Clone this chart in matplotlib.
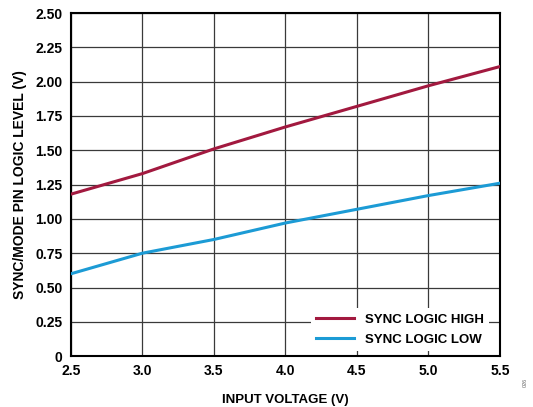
import matplotlib
matplotlib.use("Agg")
import matplotlib.pyplot as plt

plt.rcParams["font.family"] = ["Liberation Sans", "DejaVu Sans"]
plt.rcParams["font.weight"] = "bold"

# 输入电压与 SYNC/MODE 引脚逻辑阈值
vin = [2.5, 3.0, 3.5, 4.0, 4.5, 5.0, 5.5]
sync_high = [1.18, 1.33, 1.51, 1.67, 1.82, 1.97, 2.11]
sync_low = [0.60, 0.75, 0.85, 0.97, 1.07, 1.17, 1.26]

x_ticks = [2.5, 3.0, 3.5, 4.0, 4.5, 5.0, 5.5]
y_ticks = [0, 0.25, 0.50, 0.75, 1.00, 1.25, 1.50, 1.75, 2.00, 2.25, 2.50]
y_labels = ["0", "0.25", "0.50", "0.75", "1.00", "1.25", "1.50", "1.75", "2.00", "2.25", "2.50"]

fig = plt.figure(figsize=(5.33, 4.07), dpi=100)
ax = fig.add_axes([0.133, 0.125, 0.805, 0.843])

ax.plot(vin, sync_high, color="#A2193F", linewidth=2.2, label="SYNC LOGIC HIGH", zorder=3)
ax.plot(vin, sync_low, color="#1C9BD5", linewidth=2.2, label="SYNC LOGIC LOW", zorder=3)

ax.set_xlim(2.5, 5.5)
ax.set_ylim(0, 2.5)
ax.set_xticks(x_ticks)
ax.set_xticklabels([f"{v:.1f}" for v in x_ticks], fontweight="bold")
ax.set_yticks(y_ticks)
ax.set_yticklabels(y_labels, fontweight="bold")
ax.tick_params(length=0, labelsize=10, pad=6)
ax.grid(True, color="#3a3a3a", linewidth=0.9)
for s in ax.spines.values():
    s.set_linewidth(1.5)
    s.set_color("black")

ax.set_xlabel("INPUT VOLTAGE (V)", fontsize=9.5, fontweight="bold", labelpad=11)
ax.set_ylabel("SYNC/MODE PIN LOGIC LEVEL (V)", fontsize=10, fontweight="bold", labelpad=6)

leg = ax.legend(loc="lower right", bbox_to_anchor=(0.99, -0.005),
                prop={"size": 9.5, "weight": "bold"},
                frameon=True, fancybox=False, framealpha=1, edgecolor="white",
                handlelength=2.9, handletextpad=0.8, borderpad=0.4, labelspacing=0.6)
leg.get_frame().set_linewidth(0)

fig.text(0.985, 0.06, "026", rotation=90, fontsize=4, color="#666666",
         fontweight="normal", ha="center", va="center")

plt.savefig("out.png", dpi=100)
plt.close()
